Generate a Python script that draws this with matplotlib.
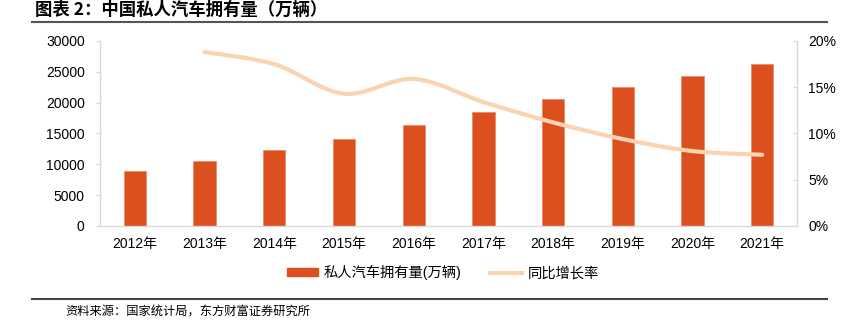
import matplotlib
matplotlib.use("Agg")
import matplotlib.pyplot as plt
from matplotlib.path import Path
from matplotlib.patches import PathPatch
from matplotlib.lines import Line2D
import numpy as np

plt.rcParams["font.family"] = ["Liberation Sans", "Noto Sans CJK SC", "DejaVu Sans"]

years = ["2012年", "2013年", "2014年", "2015年", "2016年",
         "2017年", "2018年", "2019年", "2020年", "2021年"]
cars = [8838, 10502, 12339, 14099, 16330, 18515, 20575, 22509, 24393, 26246]
growth_years = years[1:]
growth = [18.8, 17.5, 14.3, 15.9, 13.4, 11.2, 9.4, 8.1, 7.7]

BAR = "#dc4f1e"
LINE = "#fad3b0"
SPINE = "#d9d9d9"


def smooth_path(xs, ys, t=1 / 6):
    """Excel-like smoothed line as cubic Bezier through the points."""
    pts = np.column_stack([xs, ys]).astype(float)
    verts, codes = [pts[0]], [Path.MOVETO]
    n = len(pts)
    for i in range(n - 1):
        p0 = pts[i - 1] if i > 0 else pts[i]
        p1, p2 = pts[i], pts[i + 1]
        p3 = pts[i + 2] if i + 2 < n else pts[i + 1]
        c1 = p1 + (p2 - p0) * t
        c2 = p2 - (p3 - p1) * t
        verts += [c1, c2, p2]
        codes += [Path.CURVE4] * 3
    return Path(verts, codes)


fig = plt.figure(figsize=(8.48, 3.24), dpi=100)
ax = fig.add_axes([0.1179, 0.3025, 0.822, 0.571])
ax2 = ax.twinx()

x = np.arange(len(years))
ax.bar(x, cars, width=0.32, color=BAR, edgecolor="#f08a64", linewidth=0.6, zorder=2)
ax.set_xlim(-0.5, len(years) - 0.5)
ax.set_ylim(0, 30000)
ax.set_yticks(range(0, 30001, 5000))
ax.set_xticks(x)
ax.set_xticklabels(years)

gx = x[1:]
ax2.add_patch(PathPatch(smooth_path(gx, growth), facecolor="none", edgecolor=LINE,
                        linewidth=3, capstyle="round", zorder=3))
ax2.set_ylim(0, 20)
ax2.set_yticks(range(0, 21, 5))
ax2.set_yticklabels([f"{v}%" for v in range(0, 21, 5)])

for a in (ax, ax2):
    for s in a.spines.values():
        s.set_visible(False)
    a.tick_params(labelsize=10, colors="#000000", length=0, pad=6)
ax.spines["left"].set_visible(True)
ax.spines["bottom"].set_visible(True)
ax2.spines["right"].set_visible(True)
for s in (ax.spines["left"], ax.spines["bottom"], ax2.spines["right"]):
    s.set_color(SPINE)
    s.set_linewidth(1)
ax.tick_params(axis="y", length=3, color=SPINE, pad=8)
ax2.tick_params(axis="y", length=3, direction="in", color=SPINE, pad=8)
ax.tick_params(axis="x", pad=8)

handles = [plt.Rectangle((0, 0), 1, 1, color=BAR),
           Line2D([], [], color=LINE, linewidth=3)]
fig.legend(handles, ["私人汽车拥有量(万辆)", "同比增长率"], loc="center",
           bbox_to_anchor=(0.522, 0.158), ncol=2, frameon=False, fontsize=10.3,
           handlelength=2.2, handleheight=0.5, columnspacing=2.0, handletextpad=0.4)

fig.text(0.041, 0.968, "图表 2：中国私人汽车拥有量（万辆）", fontsize=12.5,
         fontweight="bold", va="center", family=["Noto Sans CJK SC"])
fig.add_artist(Line2D([0.038, 0.975], [0.932, 0.932], color="#555555", linewidth=1.5))
fig.add_artist(Line2D([0.038, 0.975], [0.077, 0.077], color="#444444", linewidth=1.5))
fig.text(0.077, 0.038, "资料来源：国家统计局，东方财富证券研究所", fontsize=8.8,
         va="center", family=["Noto Sans CJK SC"])

fig.savefig("out.png", dpi=100)
